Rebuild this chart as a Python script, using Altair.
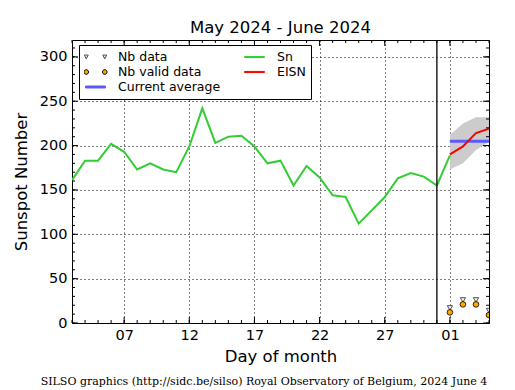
import altair as alt
import pandas as pd

# ---------------- data ----------------
sn_days = [3, 4, 5, 6, 7, 8, 9, 10, 11, 12, 13, 14, 15, 16, 17, 18, 19, 20,
           21, 22, 23, 24, 25, 26, 27, 28, 29, 30, 31, 32]
sn_values = [161, 183, 183, 202, 193, 173, 180, 173, 170, 199, 242, 203, 210,
             211, 199, 180, 183, 155, 177, 164, 144, 142, 112, 127, 142, 163,
             169, 165, 155, 189]
fc_days = [32, 33, 34, 35]
eisn_values = [190, 199, 214, 219]
band_low = [173, 180, 195, 204]
band_high = [212, 225, 232, 232]
avg_values = [205, 205, 205, 205]
nb_data_values = [17, 26, 26, 14]
nb_valid_values = [12, 21, 21, 9]
month_end_day = [31]

major_days = [7, 12, 17, 22, 27, 32]
major_labels = ["07", "12", "17", "22", "27", "01"]
minor_days = [3, 4, 5, 6, 7, 8, 9, 10, 11, 12, 13, 14, 15, 16, 17, 18, 19,
              20, 21, 22, 23, 24, 25, 26, 27, 28, 29, 30, 31, 32, 33, 34, 35]
y_major = [0, 50, 100, 150, 200, 250, 300]
y_minor = [0, 10, 20, 30, 40, 50, 60, 70, 80, 90, 100, 110, 120, 130, 140,
           150, 160, 170, 180, 190, 200, 210, 220, 230, 240, 250, 260, 270,
           280, 290, 300, 310]

# legend entries, column by column
legend_names = ["Nb data", "Nb valid data", "Current average", "Sn", "EISN"]
title_text = "May 2024 - June 2024"
footer_text = ("SILSO graphics (http://sidc.be/silso) Royal Observatory of "
               "Belgium, 2024 June 4")
x_title = "Day of month"
y_title = "Sunspot Number"

# ---------------- styles ----------------
W, H = 417, 283
X_DOMAIN = [3, 35]
Y_DOMAIN = [0, 319]
FONT = "DejaVu Sans"
GREEN = "#32cd32"
RED = "#ff0000"
BLUE = "#5a5aff"
BAND = "#cccccc"
ORANGE = "#ffa500"
MAJOR_LEN = 6
MINOR_LEN = 3

sn_df = pd.DataFrame({"day": sn_days, "v": sn_values})
fc_df = pd.DataFrame({"day": fc_days, "eisn": eisn_values, "lo": band_low,
                      "hi": band_high, "avg": avg_values,
                      "nbd": nb_data_values, "nbv": nb_valid_values})
rule_df = pd.DataFrame({"day": month_end_day})
legend_df = pd.DataFrame({"series": legend_names})
footer_df = pd.DataFrame({"t": [footer_text]})
xmaj_df = pd.DataFrame({"d": major_days})
xmin_df = pd.DataFrame({"d": minor_days})
ymaj_df = pd.DataFrame({"v": y_major})
ymin_df = pd.DataFrame({"v": y_minor})

xs = alt.Scale(domain=X_DOMAIN, nice=False, zero=False)
ys = alt.Scale(domain=Y_DOMAIN, nice=False, zero=False)

label_expr = ""
for d, l in zip(major_days, major_labels):
    label_expr += f"datum.value == {d} ? '{l}' : "
label_expr += "''"

common = dict(domain=False, labelFont=FONT, labelColor="black",
              titleFont=FONT, titleColor="black", ticks=False, tickSize=0,
              labelPadding=5, labelFontSize=14.5, grid=True,
              gridColor="black", gridDash=[1, 3], gridWidth=1,
              titleFontSize=16.5, titleFontWeight="normal")

ax_x_main = alt.Axis(orient="bottom", values=major_days, labelExpr=label_expr,
                     titlePadding=7, **common)
ax_y_main = alt.Axis(orient="left", values=y_major, titlePadding=10, **common)

# ---------------- layers ----------------
band = alt.Chart(fc_df).mark_area(color=BAND, opacity=1).encode(
    x=alt.X("day:Q", scale=xs, axis=ax_x_main, title=x_title),
    y=alt.Y("lo:Q", scale=ys, axis=ax_y_main, title=y_title),
    y2="hi:Q",
)

avg_line = alt.Chart(fc_df).mark_line(color=BLUE, strokeWidth=3, clip=True).encode(
    x=alt.X("day:Q", scale=xs, axis=None),
    y=alt.Y("avg:Q", scale=ys, axis=None),
)

sn_line = alt.Chart(sn_df).mark_line(color=GREEN, strokeWidth=2, clip=True).encode(
    x=alt.X("day:Q", scale=xs, axis=None),
    y=alt.Y("v:Q", scale=ys, axis=None),
)

eisn_line = alt.Chart(fc_df).mark_line(color=RED, strokeWidth=2, clip=True).encode(
    x=alt.X("day:Q", scale=xs, axis=None),
    y=alt.Y("eisn:Q", scale=ys, axis=None),
)

rule = alt.Chart(rule_df).mark_rule(color="black", strokeWidth=1.3).encode(
    x=alt.X("day:Q", scale=xs, axis=None),
)

tri = alt.Chart(fc_df).mark_point(shape="triangle-down", filled=True,
                                  fill="#eeeeee", stroke="#555555",
                                  strokeWidth=1, size=28, opacity=1,
                                  clip=True).encode(
    x=alt.X("day:Q", scale=xs, axis=None),
    y=alt.Y("nbd:Q", scale=ys, axis=None),
)

circ = alt.Chart(fc_df).mark_point(shape="circle", filled=True, fill=ORANGE,
                                   stroke="black", strokeWidth=0.8, size=32,
                                   opacity=1, clip=True).encode(
    x=alt.X("day:Q", scale=xs, axis=None),
    y=alt.Y("nbv:Q", scale=ys, axis=None),
)


# inward tick marks on all four sides (matplotlib classic look)
def x_ticks(df, y0, y1):
    return alt.Chart(df).mark_rule(color="black", strokeWidth=1).encode(
        x=alt.X("d:Q", scale=xs, axis=None),
        y=alt.value(y0), y2=alt.value(y1))


def y_ticks(df, x0, x1):
    return alt.Chart(df).mark_rule(color="black", strokeWidth=1).encode(
        y=alt.Y("v:Q", scale=ys, axis=None),
        x=alt.value(x0), x2=alt.value(x1))


tick_layers = [
    x_ticks(xmaj_df, H, H - MAJOR_LEN), x_ticks(xmaj_df, 0, MAJOR_LEN),
    x_ticks(xmin_df, H, H - MINOR_LEN), x_ticks(xmin_df, 0, MINOR_LEN),
    y_ticks(ymaj_df, 0, MAJOR_LEN), y_ticks(ymaj_df, W, W - MAJOR_LEN),
    y_ticks(ymin_df, 0, MINOR_LEN), y_ticks(ymin_df, W, W - MINOR_LEN),
]

legend_fills = ["#dddddd", ORANGE, BLUE, GREEN, RED]
legend_strokes = ["#555555", "black", BLUE, GREEN, RED]
legend_paths = [
    "M-1.02,-0.18L-0.66,-0.18L-0.84,0.18Z M0.66,-0.18L1.02,-0.18L0.84,0.18Z",
    "M-1.05,0A0.21,0.21 0 1,0 -0.63,0A0.21,0.21 0 1,0 -1.05,0Z "
    "M0.63,0A0.21,0.21 0 1,0 1.05,0A0.21,0.21 0 1,0 0.63,0Z",
    "M-0.9,-0.09H0.9V0.09H-0.9Z",
    "M-0.9,-0.05H0.9V0.05H-0.9Z",
    "M-0.9,-0.05H0.9V0.05H-0.9Z",
]
leg = alt.Legend(title=None, orient="none", legendX=7, legendY=5, columns=2)
legend_layer = alt.Chart(legend_df).mark_point(filled=True, opacity=1).encode(
    fill=alt.Fill("series:N", scale=alt.Scale(domain=legend_names,
                                              range=legend_fills), legend=leg),
    stroke=alt.Stroke("series:N", scale=alt.Scale(domain=legend_names,
                                                  range=legend_strokes),
                      legend=leg),
    shape=alt.Shape("series:N", scale=alt.Scale(domain=legend_names,
                                                range=legend_paths),
                    legend=leg),
).transform_filter("false")

footer = alt.Chart(footer_df).mark_text(font="DejaVu Serif", fontSize=11,
                                        color="black", align="center",
                                        baseline="middle").encode(
    x=alt.value(192), y=alt.value(342), text="t:N")

chart = alt.layer(
    band, avg_line, sn_line, eisn_line, rule, *tick_layers, tri, circ,
    legend_layer, footer
).resolve_axis(x="independent", y="independent").properties(
    width=W, height=H, autosize="none", background="white",
    padding={"left": 64, "top": 32, "right": 18, "bottom": 66},
    title=alt.TitleParams(title_text, font=FONT, fontSize=16.5,
                          fontWeight="normal", color="black", offset=3,
                          anchor="middle"),
).configure_view(stroke="black", strokeWidth=1).configure_legend(
    labelFont=FONT, labelFontSize=12.5, labelColor="black", symbolSize=484,
    symbolStrokeWidth=1, padding=5, strokeColor="black", fillColor="white",
    columnPadding=22, rowPadding=1, labelOffset=11, clipHeight=14,
    cornerRadius=0, symbolOffset=0, labelLimit=0,
)

chart.save("out.html", embed_options={"renderer": "svg", "actions": False})
